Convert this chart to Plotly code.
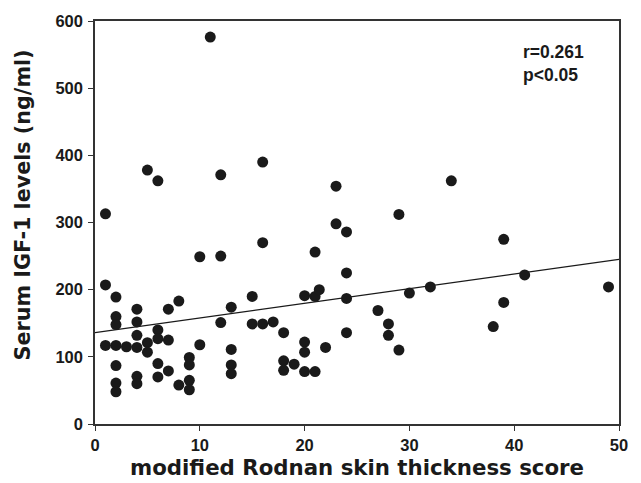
import plotly.graph_objects as go

# modified Rodnan skin thickness score (x) vs serum IGF-1 (ng/ml)
mrss = [
    1, 1, 1,
    2, 2, 2, 2, 2, 2, 2,
    3,
    4, 4, 4, 4, 4, 4,
    5, 5, 5,
    6, 6, 6, 6, 6,
    7, 7, 7,
    8, 8,
    9, 9, 9, 9,
    10, 10,
    11,
    12, 12, 12,
    13, 13, 13, 13,
    15, 15,
    16, 16, 16,
    17,
    18, 18, 18,
    19,
    20, 20, 20, 20,
    21, 21, 21,
    21.4,
    22,
    23, 23,
    24, 24, 24, 24,
    27,
    28, 28,
    29, 29,
    30,
    32,
    34,
    38,
    39, 39,
    41,
    49,
]
igf1 = [
    313, 207, 117,
    189, 160, 148, 117, 87, 61, 48,
    115,
    171, 152, 132, 114, 71, 60,
    378, 121, 107,
    362, 140, 127, 90, 70,
    171, 125, 79,
    183, 58,
    99, 88, 65, 51,
    249, 118,
    576,
    371, 250, 151,
    174, 111, 88, 75,
    190, 149,
    390, 270, 149,
    152,
    136, 94, 80,
    89,
    191, 122, 107, 78,
    256, 190, 78,
    200,
    114,
    354, 298,
    286, 225, 187, 136,
    169,
    149, 132,
    312, 110,
    195,
    204,
    362,
    145,
    275, 181,
    222,
    204,
]

# regression line end points
fit_x = [0, 50]
fit_y = [136, 245]

x_ticks = [0, 10, 20, 30, 40, 50]
y_ticks = [0, 100, 200, 300, 400, 500, 600]

x_title = "modified Rodnan skin thickness score"
y_title = "Serum IGF-1 levels (ng/ml)"

FONT = "Liberation Sans, Arial, Helvetica, sans-serif"
TITLE_FONT = "DejaVu Sans, Liberation Sans, sans-serif"
INK = "#1a1a1a"

fig = go.Figure()
fig.add_trace(go.Scatter(
    x=fit_x, y=fit_y, mode="lines",
    line=dict(color=INK, width=1.2),
    hoverinfo="skip", showlegend=False,
))
fig.add_trace(go.Scatter(
    x=mrss, y=igf1, mode="markers",
    marker=dict(color=INK, size=11, line=dict(width=0)),
    showlegend=False,
))

# correlation statistics
fig.add_annotation(
    x=0.813, y=0.952, xref="paper", yref="paper",
    xanchor="left", yanchor="top", align="left",
    text="r=0.261<br>p<0.05", showarrow=False,
    font=dict(family=FONT, size=17.5, color=INK, weight="bold"),
)

# axis titles
fig.add_annotation(
    x=0.5, y=-0.107, xref="paper", yref="paper",
    xanchor="center", yanchor="middle",
    text=x_title, showarrow=False,
    font=dict(family=TITLE_FONT, size=21.3, color=INK, weight="bold"),
)
fig.add_annotation(
    x=-0.137, y=0.543, xref="paper", yref="paper",
    xanchor="center", yanchor="middle", textangle=-90,
    text=y_title, showarrow=False,
    font=dict(family=TITLE_FONT, size=20.7, color=INK, weight="bold"),
)

axis_common = dict(
    showgrid=False, zeroline=False, automargin=False,
    showline=True, linecolor="#333", linewidth=1.5, mirror=True,
    ticks="outside", ticklen=5, tickwidth=1.2, tickcolor="#333",
    tickfont=dict(family=FONT, size=16.5, color=INK, weight="bold"),
)

fig.update_xaxes(range=[0, 50], tickvals=x_ticks, ticklabelstandoff=0,
                 **axis_common)
fig.update_yaxes(range=[0, 600], tickvals=y_ticks, ticklabelstandoff=2,
                 **axis_common)

fig.update_layout(
    width=641, height=483,
    margin=dict(l=95, r=22, t=21, b=59),
    paper_bgcolor="white", plot_bgcolor="white",
)

fig.write_html("out.html")
